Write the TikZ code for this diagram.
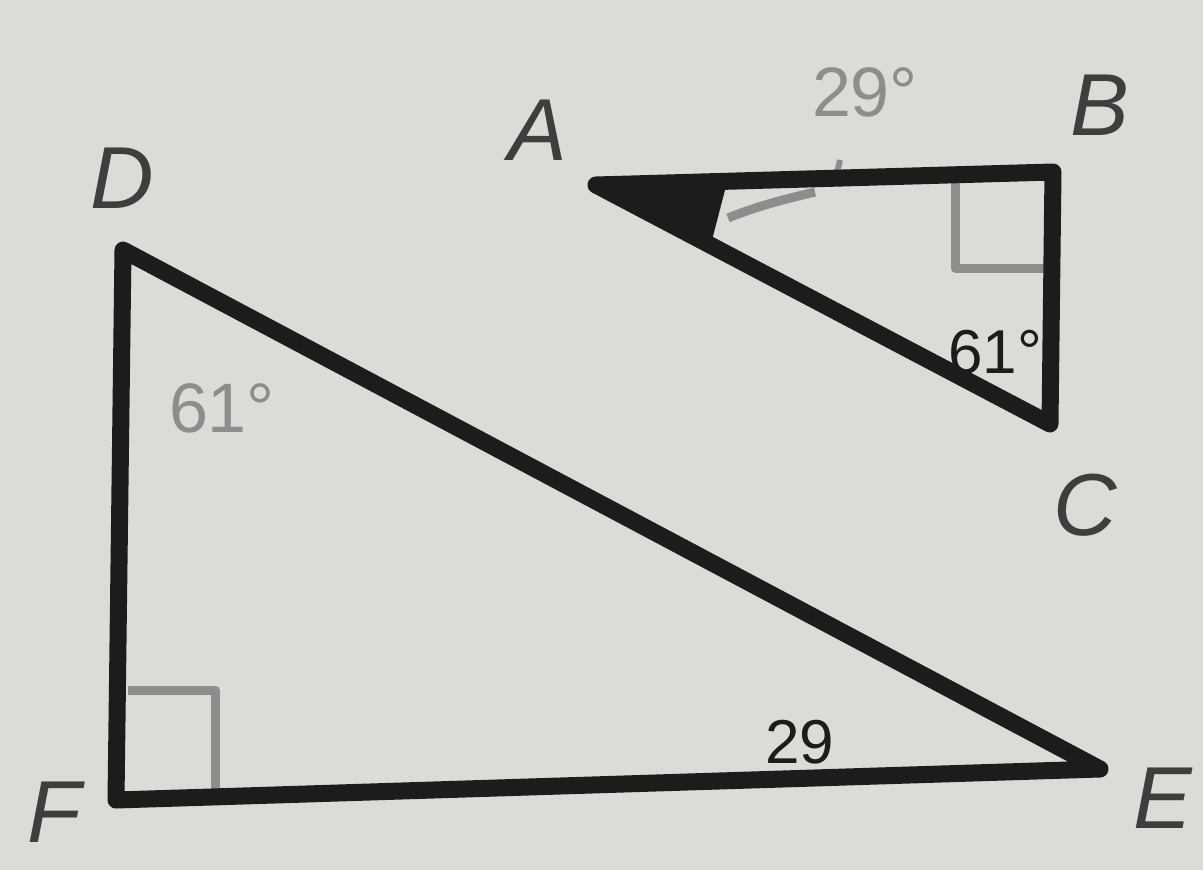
\documentclass[tikz,border=0pt]{standalone}
\usepackage{fontspec}
\setmainfont{Liberation Sans}
\definecolor{paper}{HTML}{D9DCD7}
\definecolor{ink}{HTML}{1C1C1A}
\definecolor{pencil}{HTML}{8C8E8C}
\begin{document}
\begin{tikzpicture}[x=1pt,y=-1pt,
  edge/.style={ink,line width=17pt,line join=round,line cap=round},
  pencilmark/.style={pencil,line width=9pt,line join=round},
  lab/.style={ink!85,font=\fontsize{88}{88}\selectfont\itshape,inner sep=0pt},
  glab/.style={pencil,font=\fontsize{70}{70}\selectfont,inner sep=0pt},
  dlab/.style={ink,font=\fontsize{62}{62}\selectfont,inner sep=0pt}]
\fill[paper] (0,0) rectangle (1203,870);
\useasboundingbox (0,0) rectangle (1203,870);
% vertices
\coordinate (A) at (596,185);
\coordinate (B) at (1053,172);
\coordinate (C) at (1050,424);
\coordinate (D) at (123,250);
\coordinate (F) at (116,800);
\coordinate (E) at (1100,769);
% right-angle marks (pencil)
\draw[pencilmark] (955,182) -- (955,268) -- (1045,268);
\draw[pencilmark] (128,690) -- (215,690) -- (215,792);
% angle arc at A (pencil)
\draw[pencilmark] (728,218) .. controls (760,205) and (790,198) .. (815,192);
\draw[pencilmark,line width=6pt] (840,160) -- (835,182);
% triangles
\draw[edge] (A) -- (B) -- (C) -- cycle;
\fill[ink] (A) -- (725,190) -- (712,240) -- cycle;
\draw[edge] (D) -- (F) -- (E) -- cycle;
% vertex labels
\node[lab] (lA) at (538,130) {A};
\node[lab] (lB) at (1100,105) {B};
\node[lab] (lC) at (1085,505) {C};
\node[lab] (lD) at (122,178) {D};
\node[lab] (lE) at (1163,798) {E};
\node[lab] (lF) at (54,812) {F};
% angle labels
\node[glab] (a29) at (865,92) {29°};
\node[glab] (d61) at (222,408) {61°};
\node[dlab] (c61) at (995,352) {61°};
\node[dlab] (e29) at (800,742) {29};
\end{tikzpicture}
\end{document}
